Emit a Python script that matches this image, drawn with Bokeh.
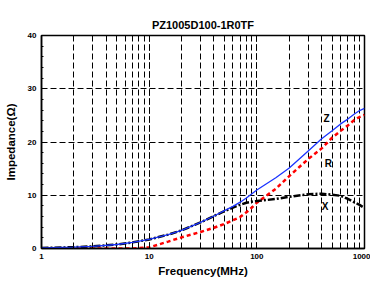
from bokeh.plotting import figure
from bokeh.embed import file_html
from bokeh.resources import INLINE
from bokeh.models import LogTicker, FixedTicker, Range1d, PrintfTickFormatter
from bokeh.core.properties import value

freq = [1, 2, 3, 5, 7, 10, 15, 20, 30, 40, 50, 60, 70, 80, 90, 100,
        150, 200, 300, 400, 500, 600, 700, 800, 900, 1000]
z_vals = [0.1, 0.25, 0.4, 0.75, 1.15, 1.7, 2.6, 3.4, 4.9, 6.1, 7.1, 7.9, 8.7, 9.5, 10.3, 11.0,
          13.3, 15.1, 18.3, 20.6, 22.1, 23.4, 24.3, 25.2, 25.9, 26.3]
r_vals = [0.0, 0.0, 0.0, 0.0, 0.0, 0.2, 1.3, 2.1, 3.1, 3.9, 4.6, 5.3, 5.9, 6.8, 7.7, 8.6,
          11.2, 13.6, 16.8, 18.8, 20.8, 22.1, 23.1, 24.1, 24.7, 25.1]
x_vals = [0.1, 0.25, 0.4, 0.75, 1.15, 1.7, 2.6, 3.4, 4.9, 6.1, 7.0, 7.7, 8.2, 8.6, 8.8, 8.9,
          9.3, 9.7, 10.2, 10.3, 10.1, 9.9, 9.3, 8.7, 8.2, 7.6]

label_text = ["Z", "R", "X"]
label_x = [443, 462, 430]
label_y = [24.4, 16.0, 7.9]

FONT = "Liberation Sans"

p = figure(width=370, height=280, x_axis_type="log", output_backend="svg",
           toolbar_location=None, title="PZ1005D100-1R0TF",
           min_border_left=41, min_border_top=35, min_border_right=6, min_border_bottom=32)
p.x_range = Range1d(1, 1000)
p.y_range = Range1d(0, 40)

p.title.align = "center"
p.title.text_font = FONT
p.title.text_font_size = "11px"
p.title.text_font_style = "bold"
p.title.text_color = "black"
p.title.standoff = 9

p.outline_line_color = "black"
p.outline_line_width = 1.5
p.background_fill_color = "white"
p.border_fill_color = "white"

p.xaxis.ticker = LogTicker(num_minor_ticks=10)
p.xaxis.formatter = PrintfTickFormatter(format="%d")
p.yaxis.ticker = FixedTicker(ticks=[0, 10, 20, 30, 40], minor_ticks=list(range(0, 41, 2)))

for ax in (p.xaxis[0], p.yaxis[0]):
    ax.major_label_text_font = FONT
    ax.major_label_text_font_size = "8px"
    ax.major_label_text_font_style = "bold"
    ax.major_label_text_color = "black"
    ax.axis_label_text_font = FONT
    ax.axis_label_text_font_size = "11.5px"
    ax.axis_label_text_font_style = "bold"
    ax.axis_label_text_color = "black"
    ax.axis_line_color = "black"
    ax.axis_line_width = 1.5
    ax.major_tick_in = 4
    ax.major_tick_out = 0
    ax.minor_tick_in = 2
    ax.minor_tick_out = 0
    ax.major_tick_line_color = "black"
    ax.minor_tick_line_color = "black"

p.xaxis.major_label_standoff = 5
p.xaxis.axis_label_standoff = 3
p.yaxis.major_label_standoff = 5
p.yaxis.axis_label_standoff = 8

p.xaxis.axis_label = "Frequency(MHz)"
p.yaxis.axis_label = "Impedance(Ω)"

p.xgrid.grid_line_color = "black"
p.xgrid.grid_line_dash = "6 3"
p.xgrid.grid_line_width = 1
p.xgrid.minor_grid_line_color = "black"
p.xgrid.minor_grid_line_dash = "6 3"
p.xgrid.minor_grid_line_width = 1
p.ygrid.grid_line_color = "black"
p.ygrid.grid_line_dash = "6 3"
p.ygrid.grid_line_width = 1

p.line(freq, r_vals, line_color="red", line_width=2.5, line_dash="4 3")
p.line(freq, x_vals, line_color="black", line_width=2.5, line_dash="7 2 2 2")
p.line(freq, z_vals, line_color="#1a33ff", line_width=1.3)

p.text(x=label_x, y=label_y, text=label_text, text_font=value(FONT),
       text_font_size="10px", text_font_style="bold", text_color="black",
       text_align="center", text_baseline="middle")

open("out.html", "w").write(file_html(p, INLINE))
